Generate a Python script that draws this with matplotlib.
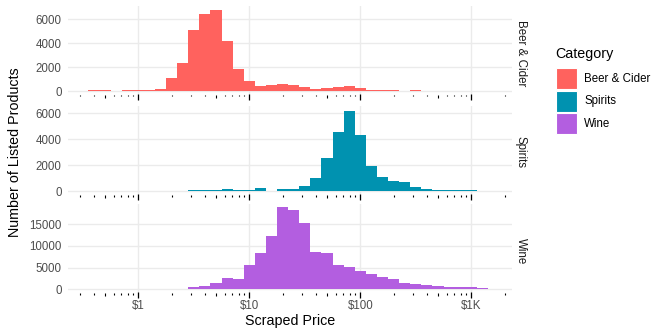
import matplotlib
matplotlib.use("Agg")
import matplotlib.pyplot as plt
from matplotlib.patches import Rectangle
import numpy as np

plt.rcParams['font.family'] = ['Liberation Sans', 'DejaVu Sans']

# ---- data ----
categories = ["Beer & Cider", "Spirits", "Wine"]
colors = ["#FF625E", "#0092B0", "#B35EE0"]

# histogram bin centres (log10 of price, dollars)
bin_centres_log = [-0.4, -0.3, -0.2, -0.1, 0.0, 0.1, 0.2, 0.3, 0.4, 0.5, 0.6, 0.7,
                   0.8, 0.9, 1.0, 1.1, 1.2, 1.3, 1.4, 1.5, 1.6, 1.7, 1.8, 1.9,
                   2.0, 2.1, 2.2, 2.3, 2.4, 2.5, 2.6, 2.7, 2.8, 2.9, 3.0, 3.1]

beer_counts = [45, 45, 0, 45, 45, 90, 195, 1055, 2330, 5110, 6420, 6780,
               4170, 1830, 805, 390, 500, 580, 500, 370, 130, 220, 300, 420,
               250, 80, 45, 45, 0, 45, 0, 0, 0, 0, 0, 0]
spirits_counts = [0, 0, 0, 0, 0, 0, 0, 40, 50, 100, 100, 100,
                  180, 80, 130, 280, 50, 180, 180, 420, 1000, 2550, 4580, 6200,
                  4350, 1970, 1130, 820, 690, 360, 200, 130, 130, 77, 77, 40]
wine_counts = [0, 0, 0, 0, 0, 0, 0, 80, 150, 460, 690, 1460,
               2690, 2460, 5680, 8290, 12210, 18900, 18280, 15200, 8520, 8330, 5600, 5070,
               4220, 3530, 2840, 2300, 1540, 1230, 1000, 770, 610, 460, 610, 300]
counts = [beer_counts, spirits_counts, wine_counts]

y_ticks = [[0, 2000, 4000, 6000], [0, 2000, 4000, 6000], [0, 5000, 10000, 15000]]
x_ticks = [1, 10, 100, 1000]
x_tick_labels = [r"\$1", r"\$10", r"\$100", r"\$1K"]

# ---- layout (pixels) ----
W, H = 652, 328
fig = plt.figure(figsize=(W / 100, H / 100), dpi=100)

def fx(x):
    return x / W

def fy(y):
    return 1 - y / H

left_px, right_px = 68.3, 511.7
panels = [  # top, bottom, zero-pixel, pixels per count
    (6.0, 100.0, 91.0, 0.012),
    (105.5, 199.5, 191.3, 0.013),
    (204.0, 298.0, 289.3, 0.00434),
]
xlim = (10 ** -0.631, 10 ** 3.364)
grid_col = "#EBEBEB"

minor_ticks = []
for dec in [0.1, 1, 10, 100, 1000]:
    for m in range(2, 10):
        minor_ticks.append(m * dec)

for i, (top, bot, zero, ppc) in enumerate(panels):
    ax = fig.add_axes([fx(left_px), fy(bot), fx(right_px) - fx(left_px), fy(top) - fy(bot)])
    ylo = -(bot - zero) / ppc
    yhi = (zero - top) / ppc
    ax.set_xscale("log")
    ax.set_xlim(*xlim)
    ax.set_ylim(ylo, yhi)
    for s in ax.spines.values():
        s.set_visible(False)
    ax.set_axisbelow(True)
    ax.grid(True, which="major", color=grid_col, linewidth=1.0)
    ax.grid(False, which="minor")
    ax.set_xticks(x_ticks)
    ax.xaxis.set_minor_locator(matplotlib.ticker.NullLocator())
    ax.set_yticks(y_ticks[i])
    ax.set_yticklabels([str(v) for v in y_ticks[i]])
    ax.tick_params(axis="both", length=0, colors="#4D4D4D", labelsize=8.3)
    ax.tick_params(axis="y", pad=4.7)
    if i == 2:
        ax.set_xticklabels(x_tick_labels)
        ax.tick_params(axis="x", pad=1.2)
    else:
        ax.set_xticklabels([])

    edges_lo = [10 ** (c - 0.05) for c in bin_centres_log]
    widths = [10 ** (c + 0.05) - 10 ** (c - 0.05) for c in bin_centres_log]
    ax.bar(edges_lo, counts[i], width=widths, align="edge", color=colors[i],
           linewidth=0, zorder=2)

    # log ticks annotation (pixel offsets below zero)
    h = bot - top
    def yf(px):
        return (bot - px) / h
    tr = ax.get_xaxis_transform()
    for t in minor_ticks:
        if not (xlim[0] <= t <= xlim[1]):
            continue
        mant = round(t / 10 ** np.floor(np.log10(t) + 1e-9))
        if mant == 5:
            y0, y1 = zero + 4.0, zero + 6.8
        else:
            y0, y1 = zero + 4.0, zero + 5.3
        ax.plot([t, t], [yf(y0), yf(y1)], transform=tr, color="black", lw=0.8,
                solid_capstyle="butt", zorder=3, clip_on=False)
    for t in [1, 10, 100, 1000]:
        ax.plot([t, t], [yf(zero + 3.0), yf(zero + 8.5)], transform=tr, color="black",
                lw=0.9, solid_capstyle="butt", zorder=3, clip_on=False)

    # strip label
    fig.text(fx(520.5), fy((top + bot) / 2), categories[i], rotation=270,
             ha="center", va="center", fontsize=8.3, color="#1A1A1A")

# axis titles
fig.text(fx((left_px + right_px) / 2), fy(321.5), "Scraped Price", ha="center",
         va="center", fontsize=10.3, color="black")
fig.text(fx(15.5), fy(152), "Number of Listed Products", rotation=90, ha="center",
         va="center", fontsize=10.3, color="black")

# legend
fig.text(fx(555.0), fy(58.3), "Category", ha="left", va="baseline", fontsize=10.3,
         color="black")
key_tops = [68.3, 90.7, 113.3]
for k, (cat, col) in enumerate(zip(categories, colors)):
    t0 = key_tops[k]
    fig.patches.append(Rectangle((fx(555.7), fy(t0 + 21)), fx(21), 21 / H,
                                 transform=fig.transFigure, facecolor=col,
                                 edgecolor="white", linewidth=0.8))
    fig.text(fx(584.3), fy(t0 + 10.5), cat, ha="left", va="center", fontsize=8.3,
             color="black")

fig.savefig("out.png", dpi=100)
